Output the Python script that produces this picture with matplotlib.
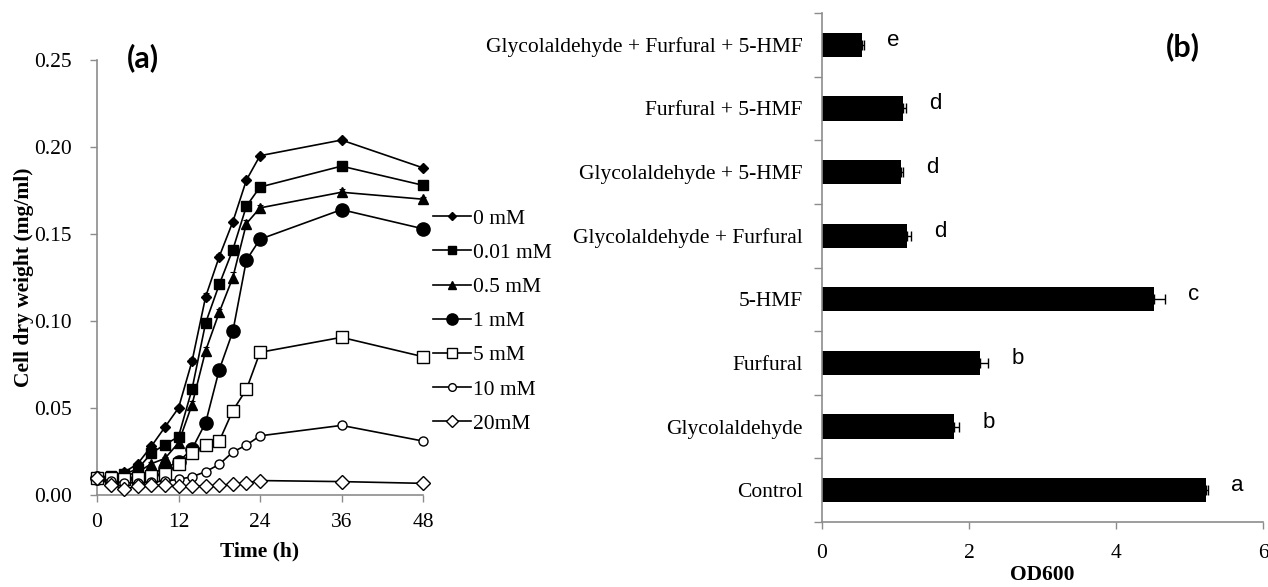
import matplotlib
matplotlib.use("Agg")
import matplotlib.pyplot as plt

# ---------------- data: panel (a) ----------------
time_h = [0, 2, 4, 6, 8, 10, 12, 14, 16, 18, 20, 22, 24, 36, 48]
series_labels = ["0 mM", "0.01 mM", "0.5 mM", "1 mM", "5 mM", "10 mM", "20mM"]
cdw_0mM = [0.010, 0.011, 0.013, 0.018, 0.028, 0.039, 0.050, 0.077, 0.114, 0.137, 0.157, 0.181, 0.195, 0.204, 0.188]
cdw_001mM = [0.010, 0.011, 0.012, 0.015, 0.024, 0.029, 0.0335, 0.061, 0.099, 0.121, 0.141, 0.166, 0.177, 0.189, 0.178]
cdw_05mM = [0.010, 0.010, 0.011, 0.013, 0.018, 0.021, 0.030, 0.052, 0.083, 0.105, 0.125, 0.156, 0.165, 0.174, 0.170]
cdw_1mM = [0.010, 0.009, 0.009, 0.010, 0.012, 0.0155, 0.019, 0.0265, 0.0416, 0.072, 0.094, 0.135, 0.147, 0.164, 0.153]
cdw_5mM = [0.010, 0.010, 0.009, 0.010, 0.011, 0.012, 0.018, 0.024, 0.029, 0.031, 0.0485, 0.0607, 0.082, 0.0906, 0.0795]
cdw_10mM = [0.010, 0.008, 0.007, 0.007, 0.0075, 0.008, 0.0090, 0.0105, 0.0134, 0.0176, 0.0247, 0.0287, 0.034, 0.040, 0.031]
cdw_20mM = [0.010, 0.006, 0.0035, 0.005, 0.0055, 0.0055, 0.0052, 0.0052, 0.0052, 0.0055, 0.0063, 0.0070, 0.0083, 0.0077, 0.0067]

err_0mM = [0.0005, 0.0005, 0.0005, 0.0008, 0.001, 0.001, 0.001, 0.0015, 0.002, 0.0015, 0.001, 0.001, 0.001, 0.001, 0.001]
err_001mM = [0.0005, 0.0005, 0.0005, 0.0008, 0.001, 0.001, 0.001, 0.001, 0.001, 0.001, 0.001, 0.001, 0.001, 0.001, 0.001]
err_05mM = [0.0005, 0.0005, 0.0005, 0.0008, 0.001, 0.001, 0.001, 0.002, 0.002, 0.002, 0.003, 0.002, 0.0015, 0.002, 0.001]
err_1mM = [0.0005, 0.0005, 0.0005, 0.0005, 0.0005, 0.0008, 0.001, 0.001, 0.001, 0.001, 0.001, 0.001, 0.001, 0.001, 0.001]
err_5mM = [0.0005, 0.0005, 0.0005, 0.0005, 0.0005, 0.0005, 0.0008, 0.001, 0.001, 0.001, 0.0012, 0.0012, 0.0012, 0.0012, 0.0008]
err_10mM = [0.0003, 0.0003, 0.0003, 0.0003, 0.0003, 0.0003, 0.0004, 0.0004, 0.0005, 0.0005, 0.0005, 0.0005, 0.0005, 0.0005, 0.0008]
err_20mM = [0.0003, 0.0003, 0.0003, 0.0003, 0.0003, 0.0003, 0.0003, 0.0003, 0.0003, 0.0003, 0.0003, 0.0003, 0.0003, 0.0003, 0.0003]

# ---------------- data: panel (b) ----------------
treatments = ["Control", "Glycolaldehyde", "Furfural", "5-HMF",
              "Glycolaldehyde + Furfural", "Glycolaldehyde + 5-HMF",
              "Furfural + 5-HMF", "Glycolaldehyde + Furfural + 5-HMF"]
od600 = [5.22, 1.79, 2.15, 4.52, 1.15, 1.08, 1.10, 0.55]
od600_err = [0.03, 0.08, 0.11, 0.14, 0.06, 0.02, 0.04, 0.02]
sig_letters = ["a", "b", "b", "c", "d", "d", "d", "e"]

# ---------------- styling ----------------
SERIF = ["Liberation Serif", "DejaVu Serif"]
SANS = ["Liberation Sans", "DejaVu Sans"]
PANEL = ["Lato", "DejaVu Sans"]
GREY = "#8c8c8c"
FS = 15.5

fig = plt.figure(figsize=(12.68, 5.87), dpi=100)

# ---------- panel (a) ----------
axA = fig.add_axes([97/1268, 1-495/587, (423-97)/1268, (495-60)/587])
styles = [
    dict(marker="D", ms=5.2, mfc="black"),
    dict(marker="s", ms=6.5, mfc="black"),
    dict(marker="^", ms=7.0, mfc="black"),
    dict(marker="o", ms=9.5, mfc="black"),
    dict(marker="s", ms=8.5, mfc="white"),
    dict(marker="o", ms=6.5, mfc="white"),
    dict(marker="D", ms=7.0, mfc="white"),
]
all_vals = [cdw_0mM, cdw_001mM, cdw_05mM, cdw_1mM, cdw_5mM, cdw_10mM, cdw_20mM]
all_errs = [err_0mM, err_001mM, err_05mM, err_1mM, err_5mM, err_10mM, err_20mM]
handles = []
for vals, errs, st, lab in zip(all_vals, all_errs, styles, series_labels):
    eb = axA.errorbar(time_h, vals, yerr=errs, fmt="none", ecolor="black",
                      elinewidth=0.8, capsize=2.5, capthick=0.8, zorder=2)
    for art in eb.get_children():
        art.set_clip_on(False)
    h, = axA.plot(time_h, vals, color="black", lw=1.2, marker=st["marker"],
                  ms=st["ms"], mfc=st["mfc"], mec="black", mew=1.0,
                  label=lab, zorder=3, clip_on=False)
    handles.append(h)

axA.set_xlim(0, 48)
axA.set_ylim(0, 0.25)
axA.set_xticks([0, 12, 24, 36, 48])
axA.set_yticks([0.0, 0.05, 0.10, 0.15, 0.20, 0.25])
axA.set_yticklabels([f"{v:.2f}" for v in [0.0, 0.05, 0.10, 0.15, 0.20, 0.25]])
for s in ["top", "right"]:
    axA.spines[s].set_visible(False)
for s in ["left", "bottom"]:
    axA.spines[s].set_color(GREY)
    axA.spines[s].set_linewidth(1.2)
axA.tick_params(axis="both", direction="out", length=5, width=1.0, color=GREY,
                labelsize=FS)
axA.tick_params(axis="y", pad=13)
axA.tick_params(axis="x", pad=8)
for lbl in axA.get_xticklabels() + axA.get_yticklabels():
    lbl.set_family(SERIF)
axA.set_ylabel("Cell dry weight (mg/ml)", fontsize=FS, fontweight="bold",
               family=SERIF, labelpad=0)
axA.set_xlabel("Time (h)", fontsize=FS, fontweight="bold", family=SERIF,
               labelpad=7)
axA.text(0.14, 1.005, "(a)", transform=axA.transAxes, fontsize=22,
         fontweight="bold", family=PANEL, ha="center", va="center")

leg = axA.legend(handles=handles, loc="upper left",
                 bbox_to_anchor=(1.005, 0.678), frameon=False,
                 prop={"family": SERIF, "size": FS}, handlelength=1.75,
                 handletextpad=0.1, labelspacing=0.655, borderaxespad=0.0,
                 markerscale=0.85)

# ---------- panel (b) ----------
axB = fig.add_axes([822/1268, 1-522/587, (1263-822)/1268, (522-13)/587])
ypos = list(range(len(treatments)))
axB.barh(ypos, od600, height=0.38, color="black", zorder=2)
axB.errorbar(od600, ypos, xerr=[[0]*len(od600), od600_err], fmt="none",
             ecolor="black", elinewidth=1.0, capsize=3.5, capthick=1.0,
             zorder=3)
for y, v, e, l in zip(ypos, od600, od600_err, sig_letters):
    axB.text(v + e + 0.4, y + 0.07, l, fontsize=16, family=SANS,
             ha="center", va="center")
axB.set_xlim(0, 6)
axB.set_ylim(-0.5, len(treatments) - 0.5)
axB.set_xticks([0, 2, 4, 6])
axB.set_yticks(ypos)
axB.set_yticklabels(treatments)
axB.set_yticks([i - 0.5 for i in range(len(treatments) + 1)], minor=True)
axB.tick_params(axis="y", which="major", length=0, pad=14, labelsize=FS)
axB.tick_params(axis="y", which="minor", length=6, width=1.0, color=GREY,
                direction="out")
axB.tick_params(axis="x", direction="out", length=5, width=1.0, color=GREY,
                labelsize=FS, pad=11)
for lbl in axB.get_xticklabels() + axB.get_yticklabels():
    lbl.set_family(SERIF)
for s in ["top", "right"]:
    axB.spines[s].set_visible(False)
for s in ["left", "bottom"]:
    axB.spines[s].set_color(GREY)
    axB.spines[s].set_linewidth(1.2)
axB.set_xlabel("OD600", fontsize=FS, fontweight="bold", family=SERIF,
               labelpad=1)
fig.text(1182.7/1268, 1-46.7/587, "(b)", fontsize=22, fontweight="bold",
         family=PANEL, ha="center", va="center")

fig.savefig("out.png", dpi=100)
